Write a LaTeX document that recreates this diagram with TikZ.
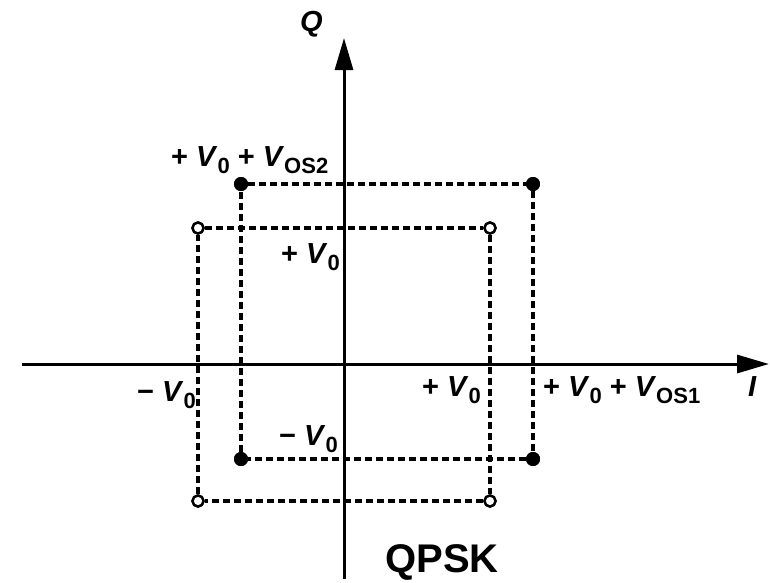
\documentclass[tikz,border=0pt]{standalone}
\usepackage{fontspec}
\setmainfont{Liberation Sans}
\usetikzlibrary{arrows.meta}
\newcommand\VV[1]{\textit{V}\raisebox{-7pt}{\fontsize{22}{22}\selectfont #1}}
\begin{document}
\begin{tikzpicture}[x=1pt,y=-1pt,
  lbl/.style={font=\fontsize{29}{31}\selectfont\bfseries, inner sep=0pt, anchor=base west},
  fdot/.style={circle, fill=black, minimum size=14pt, inner sep=0pt},
  odot/.style={circle, draw=black, fill=white, line width=2.4pt, minimum size=11pt, inner sep=0pt},
  dsh/.style={line width=3.4pt, dash pattern=on 7pt off 4pt},
  axis/.style={line width=3pt, -{Triangle[length=32pt,width=18pt]}}]
\useasboundingbox (0,0) rectangle (770,582);
% axes
\coordinate (xl) at (22,364);
\coordinate (xr) at (769,364);
\coordinate (yb) at (344,579);
\coordinate (yt) at (344,38);
\draw[axis] (xl) -- (xr);
\draw[axis] (yb) -- (yt);
% constellation points
\node[fdot] (f1) at (241,184) {};
\node[fdot] (f2) at (533,184) {};
\node[fdot] (f3) at (241,459) {};
\node[fdot] (f4) at (533,459) {};
\node[odot] (o1) at (198,228) {};
\node[odot] (o2) at (490,228) {};
\node[odot] (o3) at (198,501) {};
\node[odot] (o4) at (490,501) {};
% dashed squares
\draw[dsh] (f1) -- (f2);
\draw[dsh] (f2) -- (f4);
\draw[dsh] (f4) -- (f3);
\draw[dsh] (f3) -- (f1);
\draw[dsh] (o1) -- (o2);
\draw[dsh] (o2) -- (o4);
\draw[dsh] (o4) -- (o3);
\draw[dsh] (o3) -- (o1);
% redraw points on top
\node[fdot] at (f1) {};
\node[fdot] at (f2) {};
\node[fdot] at (f3) {};
\node[fdot] at (f4) {};
\node[odot] at (o1) {};
\node[odot] at (o2) {};
\node[odot] at (o3) {};
\node[odot] at (o4) {};
% labels
\node[lbl] (lA) at (171,166) {+ \VV{0} + \VV{OS2}};
\node[lbl] (lB) at (281,263) {+ \VV{0}};
\node[lbl] (lC) at (137,401) {− \VV{0}};
\node[lbl] (lD) at (422,396) {+ \VV{0}};
\node[lbl] (lE) at (543,396) {+ \VV{0} + \VV{OS1}};
\node[lbl] (lI) at (748,396) {\textit{I}};
\node[lbl] (lF) at (279,445) {− \VV{0}};
\node[lbl] (lQ) at (300,31) {\textit{Q}};
\node[lbl, font=\fontsize{40}{42}\selectfont\bfseries] (lP) at (385,572) {QPSK};
\end{tikzpicture}
\end{document}
